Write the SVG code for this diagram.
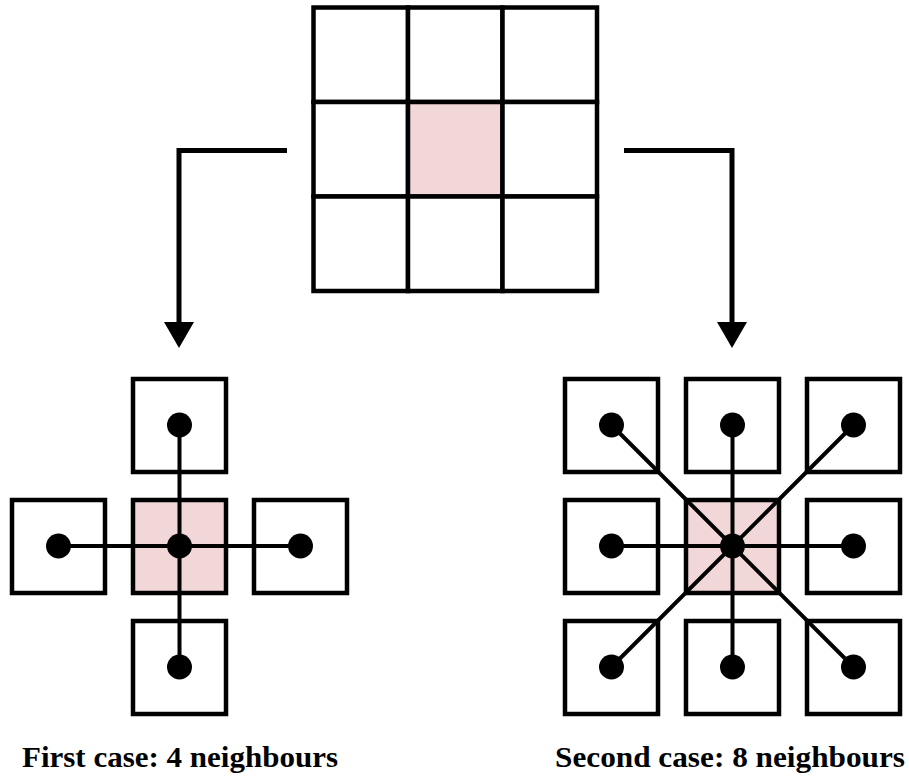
<svg xmlns="http://www.w3.org/2000/svg" width="909" height="779" viewBox="0 0 909 779">
<defs>
<style>
.cell{fill:#fff;stroke:#000;stroke-width:4.5}
.box{fill:#fff;stroke:#000;stroke-width:4.5}
.hot{fill:#f2d7d8}
.link{stroke:#000;stroke-width:4;fill:none}
.arrow{stroke:#000;stroke-width:5;fill:none}
.dot{fill:#000}
.label{font-family:"Liberation Serif","DejaVu Serif",serif;font-weight:bold;font-size:30px;fill:#000}
</style>
</defs>
<rect width="909" height="779" fill="#fff"/>
<g id="grid">
<rect class="cell" x="313.5" y="7.5" width="94.5" height="94.5"/>
<rect class="cell" x="408" y="7.5" width="94.5" height="94.5"/>
<rect class="cell" x="502.5" y="7.5" width="94.5" height="94.5"/>
<rect class="cell" x="313.5" y="102" width="94.5" height="94.5"/>
<rect class="cell hot" x="408" y="102" width="94.5" height="94.5"/>
<rect class="cell" x="502.5" y="102" width="94.5" height="94.5"/>
<rect class="cell" x="313.5" y="196.5" width="94.5" height="94.5"/>
<rect class="cell" x="408" y="196.5" width="94.5" height="94.5"/>
<rect class="cell" x="502.5" y="196.5" width="94.5" height="94.5"/>
</g>
<g id="connectors">
<polyline class="arrow" points="287,150.5 179,150.5 179,324"/>
<polygon points="164,322 194,322 179,348" fill="#000"/>
<polyline class="arrow" points="624,150.5 732,150.5 732,324"/>
<polygon points="717,322 747,322 732,348" fill="#000"/>
</g>
<g id="case4">
<rect class="box" x="133" y="379" width="93" height="93"/>
<rect class="box" x="12" y="500" width="93" height="93"/>
<rect class="box hot" x="133" y="500" width="93" height="93"/>
<rect class="box" x="254" y="500" width="93" height="93"/>
<rect class="box" x="133" y="621" width="93" height="93"/>
<line class="link" x1="179.5" y1="425" x2="179.5" y2="667"/>
<line class="link" x1="58.5" y1="546" x2="300.5" y2="546"/>
<circle class="dot" cx="179.5" cy="425" r="12.5"/>
<circle class="dot" cx="58.5" cy="546" r="12.5"/>
<circle class="dot" cx="179.5" cy="546" r="12.5"/>
<circle class="dot" cx="300.5" cy="546" r="12.5"/>
<circle class="dot" cx="179.5" cy="667" r="12.5"/>
</g>
<g id="case8">
<rect class="box" x="565" y="379" width="93" height="93"/>
<rect class="box" x="686" y="379" width="93" height="93"/>
<rect class="box" x="807" y="379" width="93" height="93"/>
<rect class="box" x="565" y="500" width="93" height="93"/>
<rect class="box hot" x="686" y="500" width="93" height="93"/>
<rect class="box" x="807" y="500" width="93" height="93"/>
<rect class="box" x="565" y="621" width="93" height="93"/>
<rect class="box" x="686" y="621" width="93" height="93"/>
<rect class="box" x="807" y="621" width="93" height="93"/>
<line class="link" x1="732.5" y1="425" x2="732.5" y2="667"/>
<line class="link" x1="611.5" y1="546" x2="853.5" y2="546"/>
<line class="link" x1="611.5" y1="425" x2="853.5" y2="667"/>
<line class="link" x1="853.5" y1="425" x2="611.5" y2="667"/>
<circle class="dot" cx="611.5" cy="425" r="12.5"/>
<circle class="dot" cx="732.5" cy="425" r="12.5"/>
<circle class="dot" cx="853.5" cy="425" r="12.5"/>
<circle class="dot" cx="611.5" cy="546" r="12.5"/>
<circle class="dot" cx="732.5" cy="546" r="12.5"/>
<circle class="dot" cx="853.5" cy="546" r="12.5"/>
<circle class="dot" cx="611.5" cy="667" r="12.5"/>
<circle class="dot" cx="732.5" cy="667" r="12.5"/>
<circle class="dot" cx="853.5" cy="667" r="12.5"/>
</g>
<g id="labels">
<text class="label" x="22" y="767" textLength="316" lengthAdjust="spacingAndGlyphs">First case: 4 neighbours</text>
<text class="label" x="555" y="767" textLength="350" lengthAdjust="spacingAndGlyphs">Second case: 8 neighbours</text>
</g>
</svg>
